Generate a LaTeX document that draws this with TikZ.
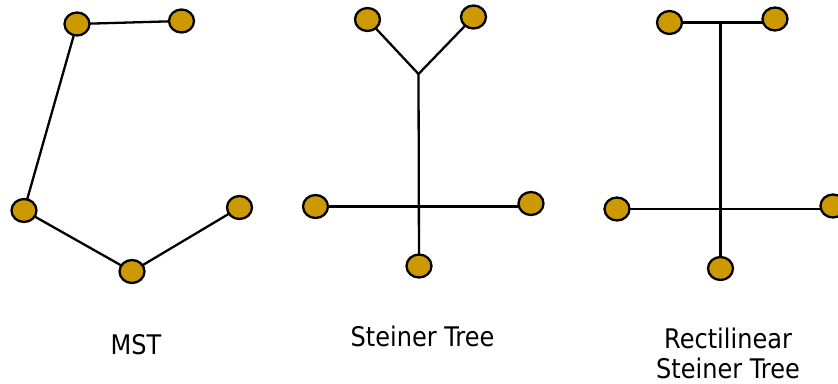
\documentclass[tikz,border=0pt]{standalone}
\usepackage{fontspec}
\setmainfont{DejaVu Sans}[FakeStretch=0.89]
\usetikzlibrary{shapes.geometric,backgrounds}
\definecolor{terminal}{HTML}{CC9900}
\tikzset{
  pin/.style={ellipse, draw=black, line width=2.3pt, fill=terminal,
    inner sep=0pt, minimum width=25pt, minimum height=23pt},
  wire/.style={draw=black, line width=2.3pt},
  caption/.style={font=\fontsize{27}{30}\selectfont, align=center,
    anchor=base, inner sep=0pt}
}
\begin{document}
\begin{tikzpicture}[x=1pt,y=-1pt]
\useasboundingbox (0,0) rectangle (838,383);

% Minimum spanning tree
\node[pin] (m1) at (77,24) {};
\node[pin] (m2) at (181.5,21) {};
\node[pin] (m3) at (24,210.5) {};
\node[pin] (m4) at (132,271.5) {};
\node[pin] (m5) at (239.5,207.5) {};

% Steiner tree
\node[pin] (s1) at (367.5,19.5) {};
\node[pin] (s2) at (473.5,17) {};
\node[pin] (s3) at (315.5,206.5) {};
\node[pin] (s4) at (531,203.5) {};
\node[pin] (s5) at (419,266) {};
\coordinate (sp) at (418.5,74);

% Rectilinear Steiner tree
\node[pin] (r1) at (669.5,22.5) {};
\node[pin] (r2) at (775,19) {};
\node[pin] (r3) at (617,209) {};
\node[pin] (r4) at (833,206) {};
\node[pin] (r5) at (720.5,268.5) {};
\coordinate (rt) at (r1.center -| r5.center);

\begin{scope}[on background layer]
  \draw[wire] (m1.center) -- (m2.center);
  \draw[wire] (m1.center) -- (m3.center);
  \draw[wire] (m3.center) -- (m4.center);
  \draw[wire] (m4.center) -- (m5.center);

  \draw[wire] (s1.center) -- (sp) -- (s2.center);
  \draw[wire] (sp) -- (s5.center);
  \draw[wire] (s3.center) -- (s3.center -| s4.center);

  \draw[wire] (r1.center) -- (r1.center -| r2.center);
  \draw[wire] (rt) -- (r5.center);
  \draw[wire] (r3.center) -- (r3.center -| r4.center);
\end{scope}

\node[caption] (cap1) at (136,354) {MST};
\node[caption] (cap2) at (422.5,346.5) {Steiner Tree};
\node[caption] (cap3) at (728,378) {Rectilinear\\Steiner Tree};
\end{tikzpicture}
\end{document}
